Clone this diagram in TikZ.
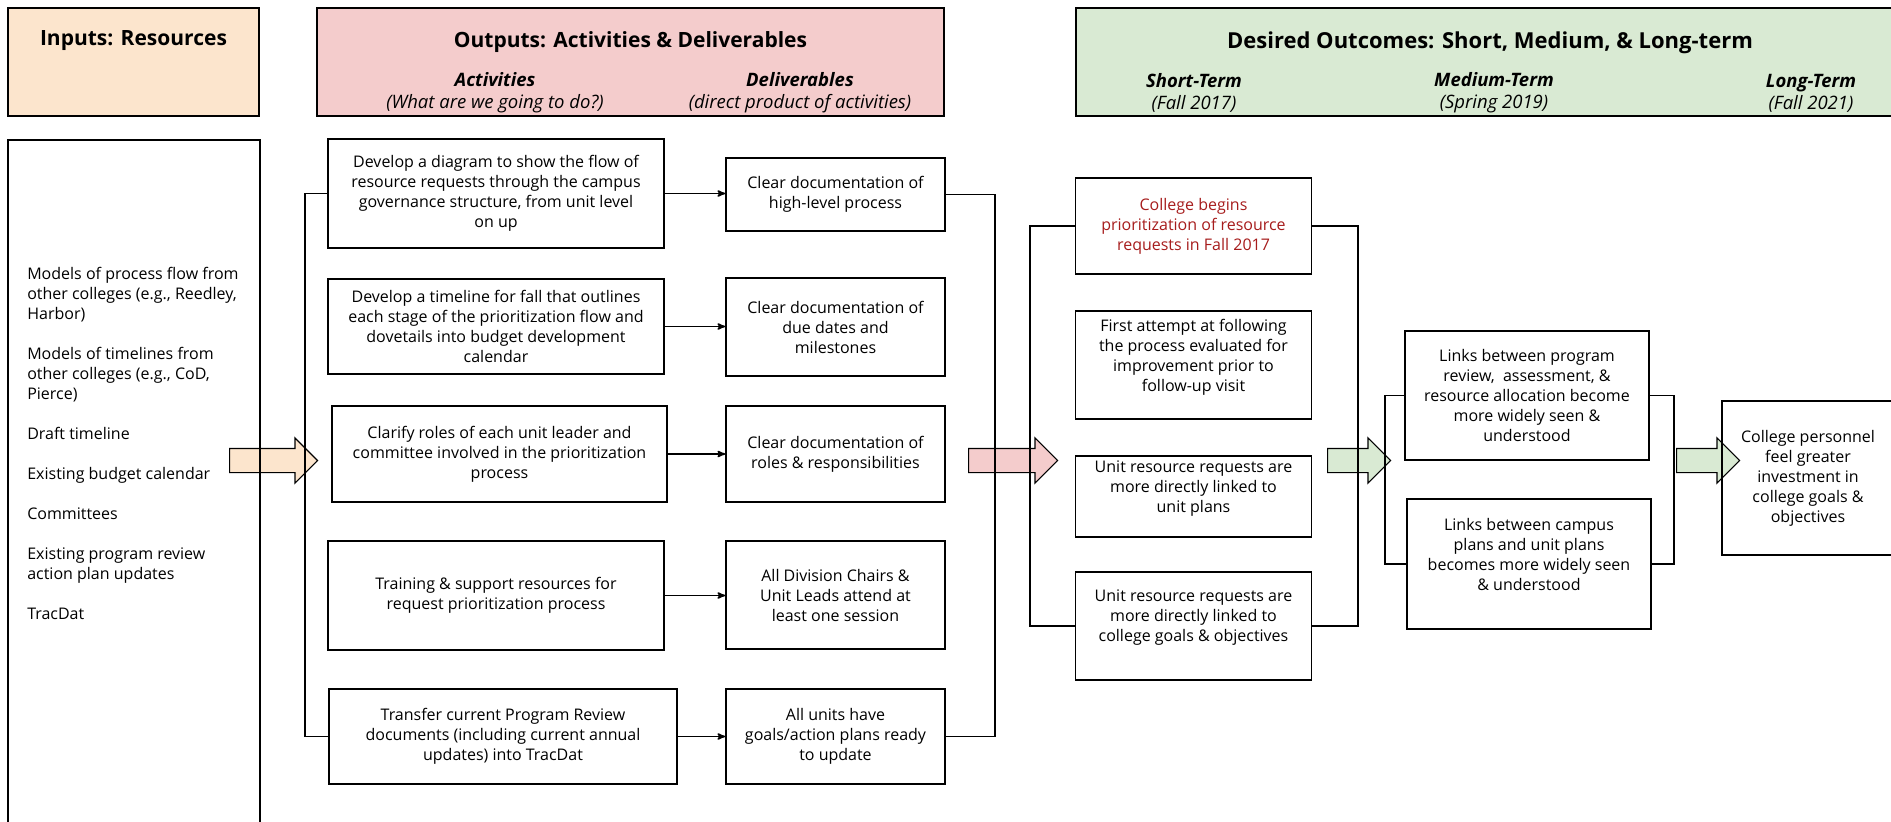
\documentclass[tikz,border=0pt]{standalone}
\usepackage{fontspec}
\setmainfont{Open Sans}
\usepackage{xcolor}
\usetikzlibrary{arrows,shapes.arrows}
\definecolor{inputcol}{HTML}{FCE5CD}
\definecolor{outputcol}{HTML}{F4CCCC}
\definecolor{outcomecol}{HTML}{D9EAD3}
\definecolor{startred}{HTML}{A61C1C}

\begin{document}
\begin{tikzpicture}[x=1pt,y=-1pt,>=stealth',line width=1.6pt,
  font=\fontsize{16}{20}\selectfont,
  main node/.style={draw,align=center,inner sep=0pt},
  head node/.style={draw,inner sep=0pt},
  title node/.style={font=\bfseries\fontsize{21}{24}\selectfont},
  sub node/.style={align=center,font=\itshape\fontsize{18.5}{22}\selectfont},
  fat arrow/.style={single arrow,draw,line width=1.2pt,inner xsep=0pt,inner ysep=11.5pt,
    minimum width=44,single arrow head extend=10.5,anchor=tail}]
  \useasboundingbox (0,0) rectangle (1891,822);

  % column headers
  \node[head node,fill=inputcol,minimum width=251,minimum height=108] (inhead) at (133.5,62) {};
  \node[title node] (intitle) at (133.5,41) {Inputs: Resources};
  \node[head node,fill=outputcol,minimum width=627,minimum height=108] (outhead) at (630.5,62) {};
  \node[title node] (outtitle) at (630.5,42) {Outputs: Activities \& Deliverables};
  \node[sub node] (actsub) at (495,93) {\textbf{Activities}\\(What are we going to do?)};
  \node[sub node] (delsub) at (800,93) {\textbf{Deliverables}\\(direct product of activities)};
  \node[head node,fill=outcomecol,minimum width=828,minimum height=108] (outcomehead) at (1490,62) {};
  \node[title node,font=\bfseries\fontsize{22}{26}\selectfont] (outcometitle) at (1490,43) {Desired Outcomes: Short, Medium, \& Long-term};
  \node[sub node] (shortsub) at (1194,93) {\textbf{Short-Term}\\(Fall 2017)};
  \node[sub node] (medsub) at (1494,93) {\textbf{Medium-Term}\\(Spring 2019)};
  \node[sub node] (longsub) at (1811,93) {\textbf{Long-Term}\\(Fall 2021)};

  % fat arrows between columns
  \node[fat arrow,fill=inputcol,minimum height=88] (inarrow) at (229,460.5) {};
  \node[fat arrow,fill=outputcol,minimum height=89] (outarrow) at (968,460.5) {};
  \node[fat arrow,fill=outcomecol,minimum height=63] (shortarrow) at (1327,460.5) {};
  \node[fat arrow,fill=outcomecol,minimum height=63] (medarrow) at (1676,460.5) {};

  % inputs
  \node[head node,minimum width=252,minimum height=700] (inbox) at (134,490) {};
  \node[anchor=west,align=left,inner sep=0pt] (inlist) at (26.5,443) {Models of process flow from\\other colleges (e.g., Reedley,\\Harbor)\\[20pt]
    Models of timelines from\\other colleges (e.g., CoD,\\Pierce)\\[20pt]
    Draft timeline\\[20pt]
    Existing budget calendar\\[20pt]
    Committees\\[20pt]
    Existing program review\\action plan updates\\[20pt]
    TracDat};

  % activities
  \node[main node,minimum width=336,minimum height=109] (act1) at (496,193.5) {Develop a diagram to show the flow of\\resource requests through the campus\\governance structure, from unit level\\on up};
  \node[main node,minimum width=336,minimum height=95] (act2) at (496,326.5) {Develop a timeline for fall that outlines\\each stage of the prioritization flow and\\dovetails into budget development\\calendar};
  \node[main node,minimum width=335,minimum height=96] (act3) at (499.5,454) {Clarify roles of each unit leader and\\committee involved in the prioritization\\process};
  \node[main node,minimum width=336,minimum height=109] (act4) at (496,595.5) {Training \& support resources for\\request prioritization process};
  \node[main node,minimum width=348,minimum height=95] (act5) at (503,736.5) {Transfer current Program Review\\documents (including current annual\\updates) into TracDat};

  % deliverables
  \node[main node,minimum width=219,minimum height=73] (del1) at (835.5,194.5) {Clear documentation of\\high-level process};
  \node[main node,minimum width=219,minimum height=98] (del2) at (835.5,327) {Clear documentation of\\due dates and\\milestones};
  \node[main node,minimum width=219,minimum height=96] (del3) at (835.5,454) {Clear documentation of\\roles \& responsibilities};
  \node[main node,minimum width=219,minimum height=108] (del4) at (835.5,595) {All Division Chairs \&\\Unit Leads attend at\\least one session};
  \node[main node,minimum width=219,minimum height=95] (del5) at (835.5,736.5) {All units have\\goals/action plans ready\\to update};

  % outcomes
  \node[main node,minimum width=236,minimum height=96,text=startred] (short1) at (1193.5,226) {College begins\\prioritization of resource\\requests in Fall 2017};
  \node[main node,minimum width=236,minimum height=108,text depth=20pt] (short2) at (1193.5,365) {First attempt at following\\the process evaluated for\\improvement prior to\\follow-up visit};
  \node[main node,minimum width=236,minimum height=81,text depth=20pt] (short3) at (1193.5,496.5) {Unit resource requests are\\more directly linked to\\unit plans};
  \node[main node,minimum width=236,minimum height=108,text depth=20pt] (short4) at (1193.5,626) {Unit resource requests are\\more directly linked to\\college goals \& objectives};
  \node[main node,minimum width=244,minimum height=129] (med1) at (1527,395.5) {Links between program\\review,~ assessment, \&\\resource allocation become\\more widely seen \&\\understood};
  \node[main node,minimum width=244,minimum height=130,text depth=20pt] (med2) at (1529,564) {Links between campus\\plans and unit plans\\becomes more widely seen\\\& understood};
  \node[main node,minimum width=172,minimum height=154] (long1) at (1808,478) {College personnel\\feel greater\\investment in\\college goals \&\\objectives};

  % connectors
  \coordinate (actbus) at (305,0);
  \coordinate (delbus) at (995,0);
  \coordinate (shortbusl) at (1030,0);
  \coordinate (shortbusr) at (1358,0);
  \coordinate (medbusl) at (1385,0);
  \coordinate (medbusr) at (1674,0);
  \draw (act1.west) -- (act1.west -| actbus) -- (act5.west -| actbus) -- (act5.west);
  \foreach \i in {1,...,5}
    \draw[->] (act\i.east) -- (act\i.east -| del\i.west);
  \draw (del1.east) -- (del1.east -| delbus) -- (del5.east -| delbus) -- (del5.east);
  \draw (short1.west) -- (short1.west -| shortbusl) -- (short4.west -| shortbusl) -- (short4.west);
  \draw (short1.east) -- (short1.east -| shortbusr) -- (short4.east -| shortbusr) -- (short4.east);
  \draw (med1.west) -- (med1.west -| medbusl) -- (med2.west -| medbusl) -- (med2.west);
  \draw (med1.east) -- (med1.east -| medbusr) -- (med2.east -| medbusr) -- (med2.east);
\end{tikzpicture}
\end{document}
